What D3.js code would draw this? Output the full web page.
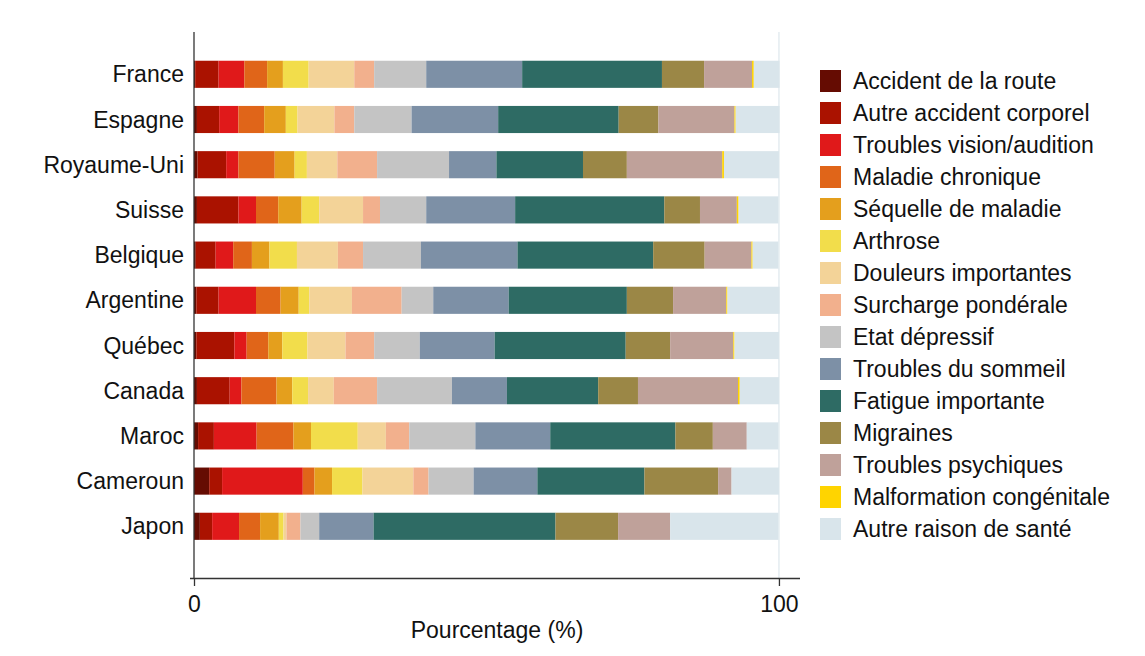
<!DOCTYPE html>
<html>
<head>
<meta charset="utf-8">
<script src="https://cdn.jsdelivr.net/npm/d3@7"></script>
<style>
  html, body { margin: 0; padding: 0; background: #ffffff; }
  svg { display: block; font-family: "Liberation Sans", Arial, sans-serif; }
</style>
</head>
<body>
<svg id="chart" width="1145" height="656"></svg>
<script>
// Pays (ordre d'affichage, de haut en bas)
const countries = ["France", "Espagne", "Royaume-Uni", "Suisse", "Belgique", "Argentine",
                   "Québec", "Canada", "Maroc", "Cameroun", "Japon"];

// Motifs de santé (ordre d'empilement, de gauche à droite)
const categories = ["Accident de la route", "Autre accident corporel", "Troubles vision/audition",
  "Maladie chronique", "Séquelle de maladie", "Arthrose", "Douleurs importantes",
  "Surcharge pondérale", "Etat dépressif", "Troubles du sommeil", "Fatigue importante",
  "Migraines", "Troubles psychiques", "Malformation congénitale", "Autre raison de santé"];

const palette = ["#650c02", "#aa1200", "#e0191a", "#e06519", "#e49f1d", "#f2dd4b", "#f3d398",
  "#f2b08d", "#c4c4c4", "#7d90a6", "#2e6b64", "#9b8746", "#bfa19a", "#ffd400", "#d9e5eb"];

// Pourcentages par motif, un élément par pays (même ordre que countries)
const accidentRoute   = [0.2, 0.5, 0.6, 0.5, 0.3, 0.4, 0.4, 0.5, 0.7, 2.6, 1.0];
const autreAccident   = [4.0, 3.8, 4.9, 7.1, 3.4, 3.8, 6.5, 5.6, 2.7, 2.2, 2.1];
const visionAudition  = [4.4, 3.3, 2.1, 3.0, 3.0, 6.4, 2.1, 2.0, 7.3, 13.8, 4.6];
const maladieChron    = [3.9, 4.4, 6.2, 3.8, 3.2, 4.2, 3.7, 6.0, 6.3, 2.0, 3.6];
const sequelle        = [2.7, 3.7, 3.4, 4.0, 3.0, 3.1, 2.4, 2.7, 3.0, 3.0, 3.2];
const arthrose        = [4.4, 2.0, 2.1, 3.0, 4.7, 1.8, 4.3, 2.7, 8.0, 5.2, 0.8];
const douleurs        = [7.8, 6.3, 5.2, 7.5, 7.0, 7.3, 6.5, 4.4, 4.8, 8.7, 0.5];
const surcharge       = [3.4, 3.4, 6.8, 2.9, 4.3, 8.5, 4.9, 7.4, 4.0, 2.6, 2.4];
const depressif       = [8.9, 9.8, 12.3, 7.9, 9.9, 5.4, 7.8, 12.8, 11.3, 7.7, 3.2];
const sommeil         = [16.4, 14.8, 8.1, 15.2, 16.5, 12.9, 12.8, 9.4, 12.8, 10.9, 9.3];
const fatigue         = [23.9, 20.6, 14.8, 25.5, 23.2, 20.2, 22.4, 15.6, 21.4, 18.3, 31.1];
const migraines       = [7.2, 6.8, 7.5, 6.1, 8.8, 7.9, 7.6, 6.8, 6.4, 12.6, 10.7];
const psychiques      = [8.2, 13.0, 16.3, 6.3, 8.0, 9.1, 10.8, 17.1, 5.8, 2.3, 8.9];
const malformation    = [0.3, 0.2, 0.3, 0.3, 0.2, 0.2, 0.2, 0.3, 0.0, 0.0, 0.0];
const autreRaison     = [4.4, 7.5, 9.4, 6.8, 4.4, 8.9, 7.6, 6.7, 5.4, 8.1, 18.5];

const series = [accidentRoute, autreAccident, visionAudition, maladieChron, sequelle, arthrose,
  douleurs, surcharge, depressif, sommeil, fatigue, migraines, psychiques, malformation, autreRaison];

const xTicks = [0, 100];
const xTitle = "Pourcentage (%)";

// Table pays × motif pour d3.stack
const table = countries.map((c, i) => {
  const row = { country: c };
  categories.forEach((k, j) => { row[k] = series[j][i]; });
  return row;
});

const svg = d3.select("#chart");
const FONT = 23;

const x = d3.scaleLinear().domain([0, 103.6]).range([194, 800]);
const y = d3.scaleBand().domain(countries).range([51.7, 548.9])
  .paddingInner(0.4).paddingOuter(0.2);
const color = d3.scaleOrdinal().domain(categories).range(palette);

const plotTop = 32, plotBottom = 578;

// Repère à 100 %
svg.append("line")
  .attr("x1", x(100)).attr("x2", x(100))
  .attr("y1", plotTop).attr("y2", plotBottom)
  .attr("stroke", "#e4ecf0").attr("stroke-width", 1.5);

// Barres empilées
const stacked = d3.stack().keys(categories)(table);
svg.append("g").selectAll("g")
  .data(stacked)
  .join("g")
  .attr("fill", d => color(d.key))
  .selectAll("rect")
  .data(d => d)
  .join("rect")
  .attr("x", d => x(d[0]))
  .attr("y", d => y(d.data.country))
  .attr("width", d => Math.max(0, x(d[1]) - x(d[0])))
  .attr("height", y.bandwidth());

// Axe vertical (ligne seule) et étiquettes des pays
svg.append("line")
  .attr("x1", x(0)).attr("x2", x(0))
  .attr("y1", plotTop).attr("y2", plotBottom)
  .attr("stroke", "#333").attr("stroke-width", 1.3);

svg.append("g").selectAll("text")
  .data(countries)
  .join("text")
  .attr("x", 184)
  .attr("y", d => y(d) + y.bandwidth() / 2)
  .attr("dy", "0.35em")
  .attr("text-anchor", "end")
  .attr("font-size", FONT)
  .attr("fill", "#111")
  .text(d => d);

// Axe horizontal
const xAxis = svg.append("g")
  .attr("transform", `translate(0,${plotBottom})`)
  .call(d3.axisBottom(x).tickValues(xTicks).tickSize(8).tickSizeOuter(0).tickPadding(10));
xAxis.select(".domain").attr("stroke", "#333").attr("stroke-width", 1.3)
  .attr("d", `M${x(0) - 4},0.5H${x(103.6)}`);
xAxis.selectAll(".tick line").attr("stroke", "#333").attr("stroke-width", 1.3);
xAxis.selectAll(".tick text")
  .attr("font-size", FONT).attr("font-family", "Liberation Sans, Arial, sans-serif")
  .attr("fill", "#111");

svg.append("text")
  .attr("x", 497).attr("y", 638)
  .attr("text-anchor", "middle")
  .attr("font-size", FONT)
  .attr("fill", "#111")
  .text(xTitle);

// Légende
const legend = svg.append("g").attr("transform", "translate(820,70)");
const item = legend.selectAll("g")
  .data(categories)
  .join("g")
  .attr("transform", (d, i) => `translate(0,${i * 32})`);
item.append("rect")
  .attr("width", 21).attr("height", 22)
  .attr("fill", d => color(d));
item.append("text")
  .attr("x", 33).attr("y", 11)
  .attr("dy", "0.35em")
  .attr("font-size", FONT)
  .attr("fill", "#111")
  .text(d => d);
</script>
</body>
</html>
